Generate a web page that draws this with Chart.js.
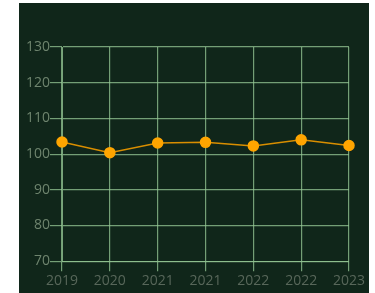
<!DOCTYPE html>
<html>
<head>
<meta charset="utf-8">
<script src="https://cdn.jsdelivr.net/npm/chart.js@4/dist/chart.umd.min.js"></script>
<style>
  html, body { margin: 0; padding: 0; background: #ffffff; }
  #box { position: absolute; left: 19px; top: 3px; width: 350px; height: 290px; background: #10261a; }
</style>
</head>
<body>
<div id="box"><canvas id="myChart"></canvas></div>
<script>
var years = ["2019", "2020", "2021", "2021", "2022", "2022", "2023"];
var values = [103.4, 100.4, 103.1, 103.3, 102.3, 104.0, 102.4];
var yTicks = [70, 80, 90, 100, 110, 120, 130];

var gridColor = "rgba(150, 200, 150, 0.75)";

new Chart("myChart", {
  type: "line",
  data: {
    labels: years,
    datasets: [{
      data: values,
      borderColor: "#d98e00",
      borderWidth: 1.5,
      pointBackgroundColor: "#ffa500",
      pointBorderColor: "#ffa500",
      pointRadius: 5,
      tension: 0
    }]
  },
  options: {
    responsive: true,
    maintainAspectRatio: false,
    animation: false,
    layout: { padding: { top: 44, right: 20, left: 7, bottom: 3 } },
    plugins: {
      legend: { display: false },
      tooltip: { enabled: false }
    },
    scales: {
      x: {
        grid: { color: gridColor, lineWidth: 1.2, tickLength: 10 },
        border: { color: gridColor },
        ticks: { color: "#58675a", font: { family: "Open Sans", size: 14 }, padding: 1, maxRotation: 0 }
      },
      y: {
        min: yTicks[0],
        max: yTicks[yTicks.length - 1],
        afterBuildTicks: function (axis) {
          axis.ticks = yTicks.map(function (v) { return { value: v }; });
        },
        grid: { color: gridColor, lineWidth: 1.2, tickLength: 12 },
        border: { color: gridColor },
        ticks: { color: "#6e846e", font: { family: "Open Sans", size: 14 }, padding: 0 }
      }
    }
  }
});
</script>
</body>
</html>
